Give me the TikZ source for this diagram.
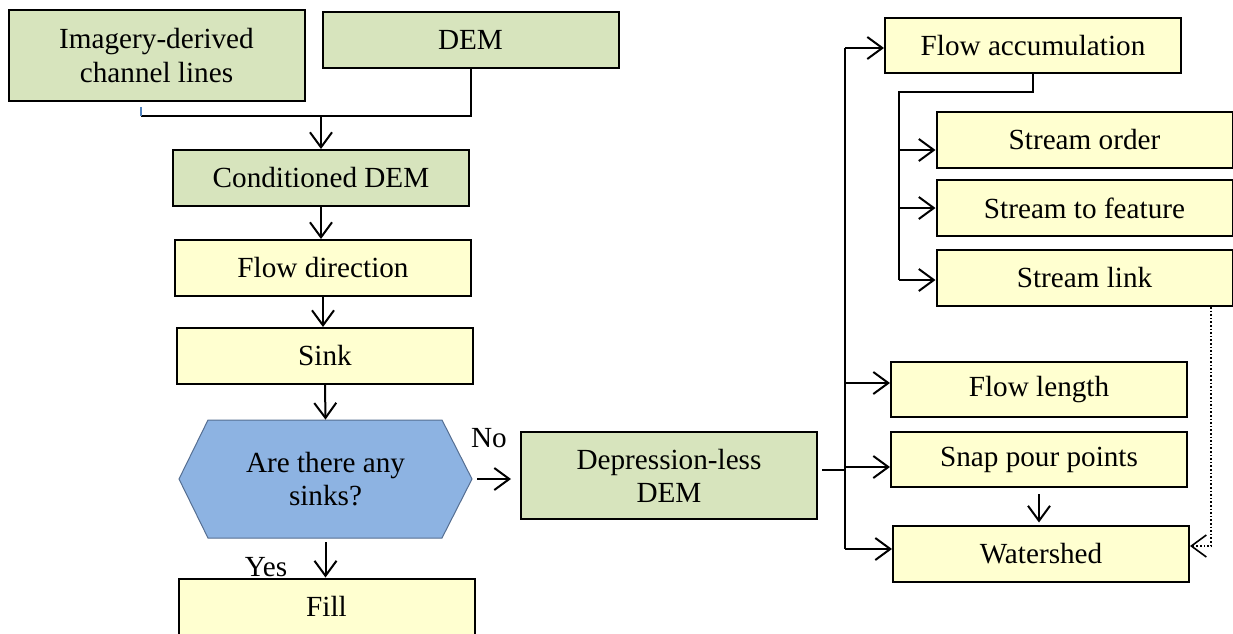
\documentclass[tikz,border=0pt]{standalone}
\usepackage{fontspec}
\setmainfont{Liberation Serif}
\usetikzlibrary{arrows.meta}

\definecolor{boxgreen}{RGB}{215,228,189}
\definecolor{boxyellow}{RGB}{255,255,208}
\definecolor{hexblue}{RGB}{141,179,226}
\definecolor{hexline}{RGB}{85,110,145}
\definecolor{tickblue}{RGB}{79,129,189}

\begin{document}
\begin{tikzpicture}[x=0.5pt,y=-0.5pt,
  every node/.style={font=\fontsize{14.6}{16.6}\selectfont, align=center, inner sep=0pt},
  greenbox/.style={draw=black, fill=boxgreen, line width=1pt, minimum width=148pt, minimum height=28pt},
  yellowbox/.style={draw=black, fill=boxyellow, line width=1pt, minimum width=148pt, minimum height=28pt},
  link/.style={line width=1pt},
  arr/.style={line width=1pt, -{Straight Barb[length=7.5pt,width=11pt]}}]
\clip (0,0) rectangle (1233,633);

% left column
\node[greenbox, minimum height=45.5pt] (img) at (156.5,55.5) {Imagery-derived\\channel lines};
\node[greenbox] (dem) at (470.5,40) {DEM};
\node[greenbox] (cdem) at (321,178) {Conditioned DEM};
\node[yellowbox] (fdir) at (323,268) {Flow direction};
\node[yellowbox] (sink) at (325,356) {Sink};
\draw[fill=hexblue, draw=hexline, line width=0.5pt] (179,479) -- (208,420) -- (442,420) -- (472,479) -- (442,538) -- (208,538) -- cycle;
\node[minimum width=146.5pt, minimum height=59pt] (ask) at (325.5,479) {Are there any\\sinks?};
\node[yellowbox] (fill) at (326.5,606.5) {Fill};
\node (no) at (489,438) {No};
\node (yes) at (266,567) {Yes};

% middle
\node[greenbox, minimum height=43.5pt] (dless) at (669,475.5) {Depression-less\\DEM};

% right column
\node[yellowbox, minimum height=27.5pt] (facc) at (1033,45.5) {Flow accumulation};
\node[yellowbox] (sord) at (1084.5,140) {Stream order};
\node[yellowbox] (sfeat) at (1084.5,208) {Stream to feature};
\node[yellowbox] (slink) at (1084.5,278) {Stream link};
\node[yellowbox, minimum height=27.5pt] (flen) at (1039,389.5) {Flow length};
\node[yellowbox, minimum height=27.5pt] (snap) at (1039,459.5) {Snap pour points};
\node[yellowbox] (wshed) at (1041,553.5) {Watershed};

% connectors
\coordinate (imgend) at (141,116);
\draw[link] (dem.south) |- (imgend);
\draw[draw=tickblue, line width=0.7pt] (imgend) -- ++(0,-9);
\draw[arr] (cdem.north |- imgend) -- (cdem.north);
\draw[arr] (cdem.south) -- (cdem.south |- fdir.north);
\draw[arr] (fdir.south) -- (fdir.south |- sink.north);
\draw[arr] (sink.south) -- (ask.north);
\draw[arr, shorten <=2pt] (ask.south) -- (ask.south |- fill.north);
\draw[arr, shorten <=2.5pt, shorten >=4.5pt] (ask.east) -- (ask.east -| dless.west);

\coordinate (fork) at (845,470);
\coordinate (trunktop) at (845,48);
\coordinate (trunkbot) at (845,549);
\draw[link, shorten <=2pt] (dless.east |- fork) -- (fork);
\draw[link] (trunktop) -- (trunkbot);
\draw[arr] (trunktop) -- (trunktop -| facc.west);
\foreach \y/\n in {383/flen,467/snap,549/wshed}
  \draw[arr] (845,\y) -- (\n.west |- 845,\y);

\coordinate (bend) at (899,92);
\draw[link] (facc.south) |- (bend) -- (899,280);
\foreach \y/\n in {150/sord,208/sfeat,280/slink}
  \draw[arr] (899,\y) -- (\n.west |- 899,\y);

\draw[arr, shorten <=3pt, shorten >=1pt] (snap.south) -- (wshed.north -| snap.south);
\coordinate (dotcorner) at (1211,546);
\draw[line width=0.8pt, densely dotted, -{Straight Barb[length=7.5pt,width=11pt]}] (slink.south -| dotcorner) |- (wshed.east |- dotcorner);

\end{tikzpicture}
\end{document}
